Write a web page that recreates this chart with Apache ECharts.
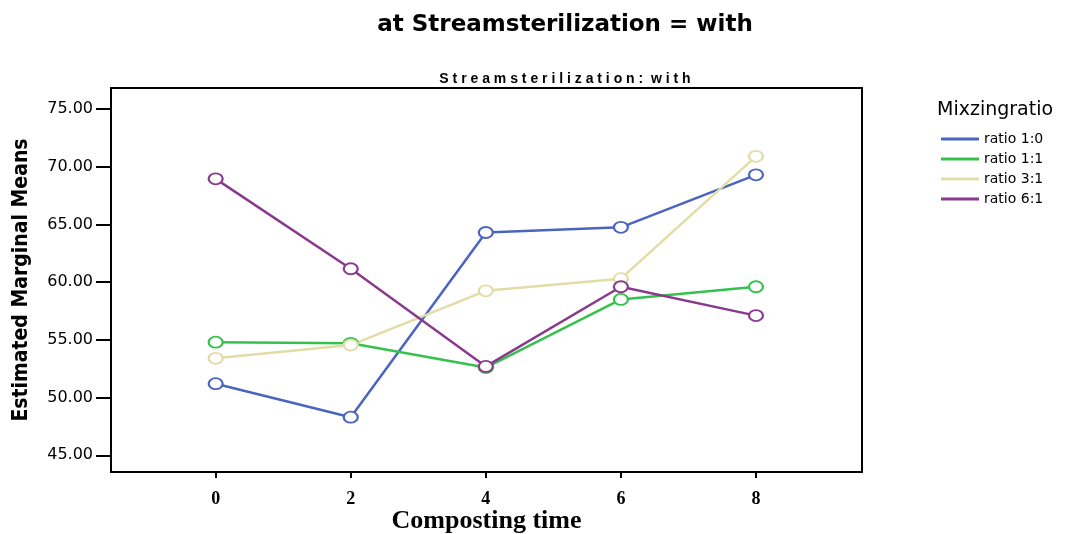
<!DOCTYPE html>
<html>
<head>
<meta charset="utf-8">
<script src="https://cdn.jsdelivr.net/npm/echarts@6/dist/echarts.min.js"></script>
<style>
  html, body { margin: 0; padding: 0; background: #fff; }
  #main { width: 1077px; height: 534px; }
</style>
</head>
<body>
<div id="main"></div>
<script>
// 数据
var times = [0, 2, 4, 6, 8];
var seriesNames = ['ratio 1:0', 'ratio 1:1', 'ratio 3:1', 'ratio 6:1'];
var ratio10 = [51.2, 48.3, 64.3, 64.75, 69.3];
var ratio11 = [54.8, 54.7, 52.6, 58.5, 59.6];
var ratio31 = [53.4, 54.55, 59.25, 60.3, 70.9];
var ratio61 = [68.95, 61.16, 52.7, 59.6, 57.1];
var yTicks = [45, 50, 55, 60, 65, 70, 75];
var colors = ['#4a64bf', '#35c24c', '#e2dca6', '#8a3a8e'];

var chart = echarts.init(document.getElementById('main'));

function pairs(vals) {
  return vals.map(function (v, i) { return [times[i], v]; });
}

var allData = [ratio10, ratio11, ratio31, ratio61];

var option = {
  animation: false,
  color: colors,
  title: [
    {
      text: 'at Streamsterilization = with',
      left: 560, top: 9, textAlign: 'center',
      textStyle: { fontFamily: 'DejaVu Sans', fontWeight: 'bold', fontSize: 23, color: '#000' }
    },
    {
      text: 'S t r e a m s t e r i l i z a t i o n :  w i t h',
      left: 560, top: 67, textAlign: 'center',
      textStyle: { fontFamily: 'Liberation Sans', fontWeight: 'bold', fontSize: 14, color: '#000' }
    },
    {
      text: 'Mixzingratio',
      left: 932, top: 96,
      textStyle: { fontFamily: 'DejaVu Sans', fontWeight: 'normal', fontSize: 19, color: '#000' }
    }
  ],
  legend: {
    data: seriesNames,
    orient: 'vertical',
    left: 936, top: 127,
    itemWidth: 38, itemHeight: 3, itemGap: 6,
    icon: 'rect',
    textStyle: { fontFamily: 'DejaVu Sans', fontSize: 14, color: '#000' }
  },
  grid: {
    left: 111, right: 215, top: 88, bottom: 62,
    outerBoundsMode: 'none', containLabel: false,
    show: true, borderColor: '#000', borderWidth: 2, backgroundColor: '#fff'
  },
  xAxis: {
    type: 'value',
    min: -1.55, max: 9.57,
    name: 'Composting time',
    nameLocation: 'middle', nameGap: 36, nameMoveOverlap: false,
    nameTextStyle: { fontFamily: 'Liberation Serif', fontWeight: 'bold', fontSize: 26, color: '#000' },
    splitLine: { show: false },
    axisLine: { show: false, onZero: false },
    axisTick: { show: true, customValues: times, length: 6, lineStyle: { color: '#000', width: 2 } },
    axisLabel: {
      customValues: times, margin: 18,
      fontFamily: 'Liberation Serif', fontWeight: 'bold', fontSize: 18, color: '#000'
    }
  },
  yAxis: {
    type: 'value',
    min: 43.55, max: 76.82,
    name: 'Estimated Marginal Means',
    nameLocation: 'middle', nameGap: 79, nameRotate: 90, nameMoveOverlap: false,
    nameTextStyle: { fontFamily: 'DejaVu Sans Condensed', fontWeight: 'bold', fontSize: 21, color: '#000' },
    splitLine: { show: false },
    axisLine: { show: false, onZero: false },
    axisTick: { show: true, customValues: yTicks, length: 15, lineStyle: { color: '#000', width: 2 } },
    axisLabel: {
      customValues: yTicks, margin: 18,
      fontFamily: 'DejaVu Sans', fontSize: 16, color: '#000',
      formatter: function (v) { return v.toFixed(2); }
    }
  },
  series: seriesNames.map(function (name, i) {
    return {
      name: name,
      type: 'line',
      data: pairs(allData[i]),
      symbol: 'emptyCircle',
      symbolSize: [14, 11],
      lineStyle: { width: 2.5 },
      itemStyle: { borderWidth: 2 }
    };
  })
};

chart.setOption(option);
</script>
</body>
</html>
